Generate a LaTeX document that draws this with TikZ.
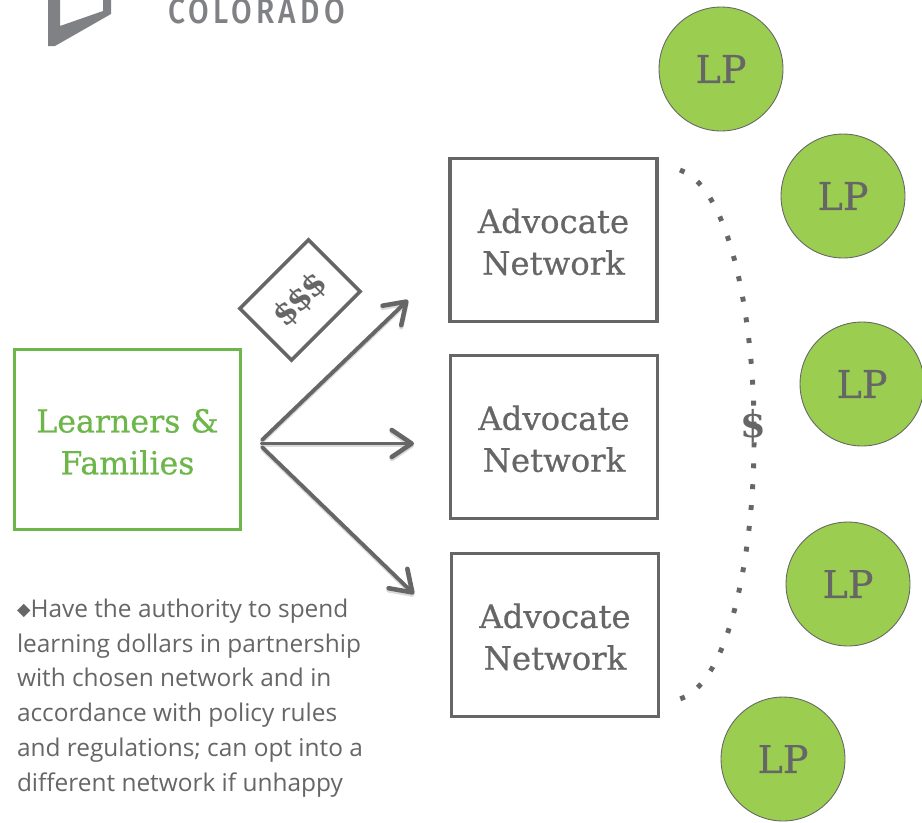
\documentclass[tikz,border=0pt]{standalone}
\usepackage{fontspec}
\usetikzlibrary{arrows.meta}
\setmainfont{DejaVu Serif}
\newfontfamily\slabfont[FakeBold=0.6]{DejaVu Serif}
\newfontfamily\bodyfont{Open Sans}
\newfontfamily\logofont[FakeStretch=0.85,LetterSpace=12]{Fira Sans Medium}
\newfontfamily\symbfont{DejaVu Sans}
\newcommand{\lowertext}{\rule{0pt}{16pt}}
\definecolor{inkgray}{HTML}{666666}
\definecolor{logogray}{HTML}{808184}
\definecolor{lpgreen}{HTML}{9ACD50}
\definecolor{boxgreen}{HTML}{6CB64A}
\begin{document}
\begin{tikzpicture}[x=0.02cm,y=-0.02cm,
  every node/.style={outer sep=0pt,inner sep=0pt},
  network/.style={draw=inkgray,line width=2.1pt,minimum width=4.14cm,minimum height=3.26cm,align=center,text=inkgray,font=\slabfont\fontsize{18.4}{23.8}\selectfont},
  learners/.style={draw=boxgreen,line width=2.1pt,minimum width=4.52cm,minimum height=3.6cm,align=center,text=boxgreen,font=\slabfont\fontsize{18}{23.8}\selectfont},
  lp/.style={circle,draw=inkgray,line width=0.5pt,fill=lpgreen,minimum size=2.48cm,text=inkgray,font=\slabfont\fontsize{21.7}{24}\selectfont},
  flow/.style={draw=inkgray,line width=2.2pt,line cap=round,-{Straight Barb[length=0.4cm,width=0.54cm,line width=2.6pt,round]},preaction={draw=black!14,line width=2pt,transform canvas={yshift=-1.2pt}}},
  money/.style={draw=inkgray,line width=2pt,rotate=45,minimum width=1.94cm,minimum height=1.46cm,text=inkgray,font=\bfseries\fontsize{18}{20}\selectfont}]
\useasboundingbox (0,0) rectangle (922,822);

\fill[logogray] (48,-2) -- (48,46) -- (55,46) -- (111,14) -- (111,-2) -- (103,-2) -- (103,11) -- (60,26) -- (60,-2) -- cycle;
\node[anchor=base west,text=logogray,font=\logofont\fontsize{20}{22}\selectfont] (logo) at (168,23.5) {COLORADO};

\node[learners] (families) at (127.5,439.5) {\lowertext Learners \&\\Families};
\node[network] (netA) at (553.5,240) {\lowertext Advocate\\Network};
\node[network] (netB) at (554,437) {\lowertext Advocate\\Network};
\node[network] (netC) at (555,635) {\lowertext Advocate\\Network};

\node[lp] (lpA) at (721,69) {LP};
\node[lp] (lpB) at (843,196) {LP};
\node[lp] (lpC) at (862,384) {LP};
\node[lp] (lpD) at (848,584) {LP};
\node[lp] (lpE) at (783,759) {LP};

\node[money] (cash) at (300,300) {\$\kern-0.07em\$\kern-0.07em\$};

\coordinate (hubA) at (262,440);
\coordinate (hubB) at (262,443.5);
\coordinate (hubC) at (262,447);
\coordinate (tipA) at (408,300);
\coordinate (tipB) at (414,443.5);
\coordinate (tipC) at (414,594);
\draw[flow] (hubA) -- (tipA);
\draw[flow] (hubB) -- (tipB);
\draw[flow] (hubC) -- (tipC);

\coordinate (arcA) at (680,170);
\coordinate (arcB) at (754,435);
\coordinate (arcC) at (680,699);
\draw[inkgray,line width=2.8pt,dash pattern=on 2.8pt off 9.1pt] (arcA) .. controls (735,190) and (755,340) .. (arcB) .. controls (755,530) and (735,680) .. (arcC);
\node[text=inkgray,font=\bfseries\fontsize{21}{24}\selectfont] (fee) at (753.5,426) {\$};

\node[anchor=north west,align=left,text=inkgray,font=\bodyfont\fontsize{13.9}{19.9}\selectfont] (note) at (17,598.5) {{\symbfont\fontsize{10}{10}\selectfont\raisebox{1pt}{◆}}Have the authority to spend\\learning dollars in partnership\\with chosen network and in\\accordance with policy rules\\and regulations; can opt into a\\different network if unhappy};
\end{tikzpicture}
\end{document}
